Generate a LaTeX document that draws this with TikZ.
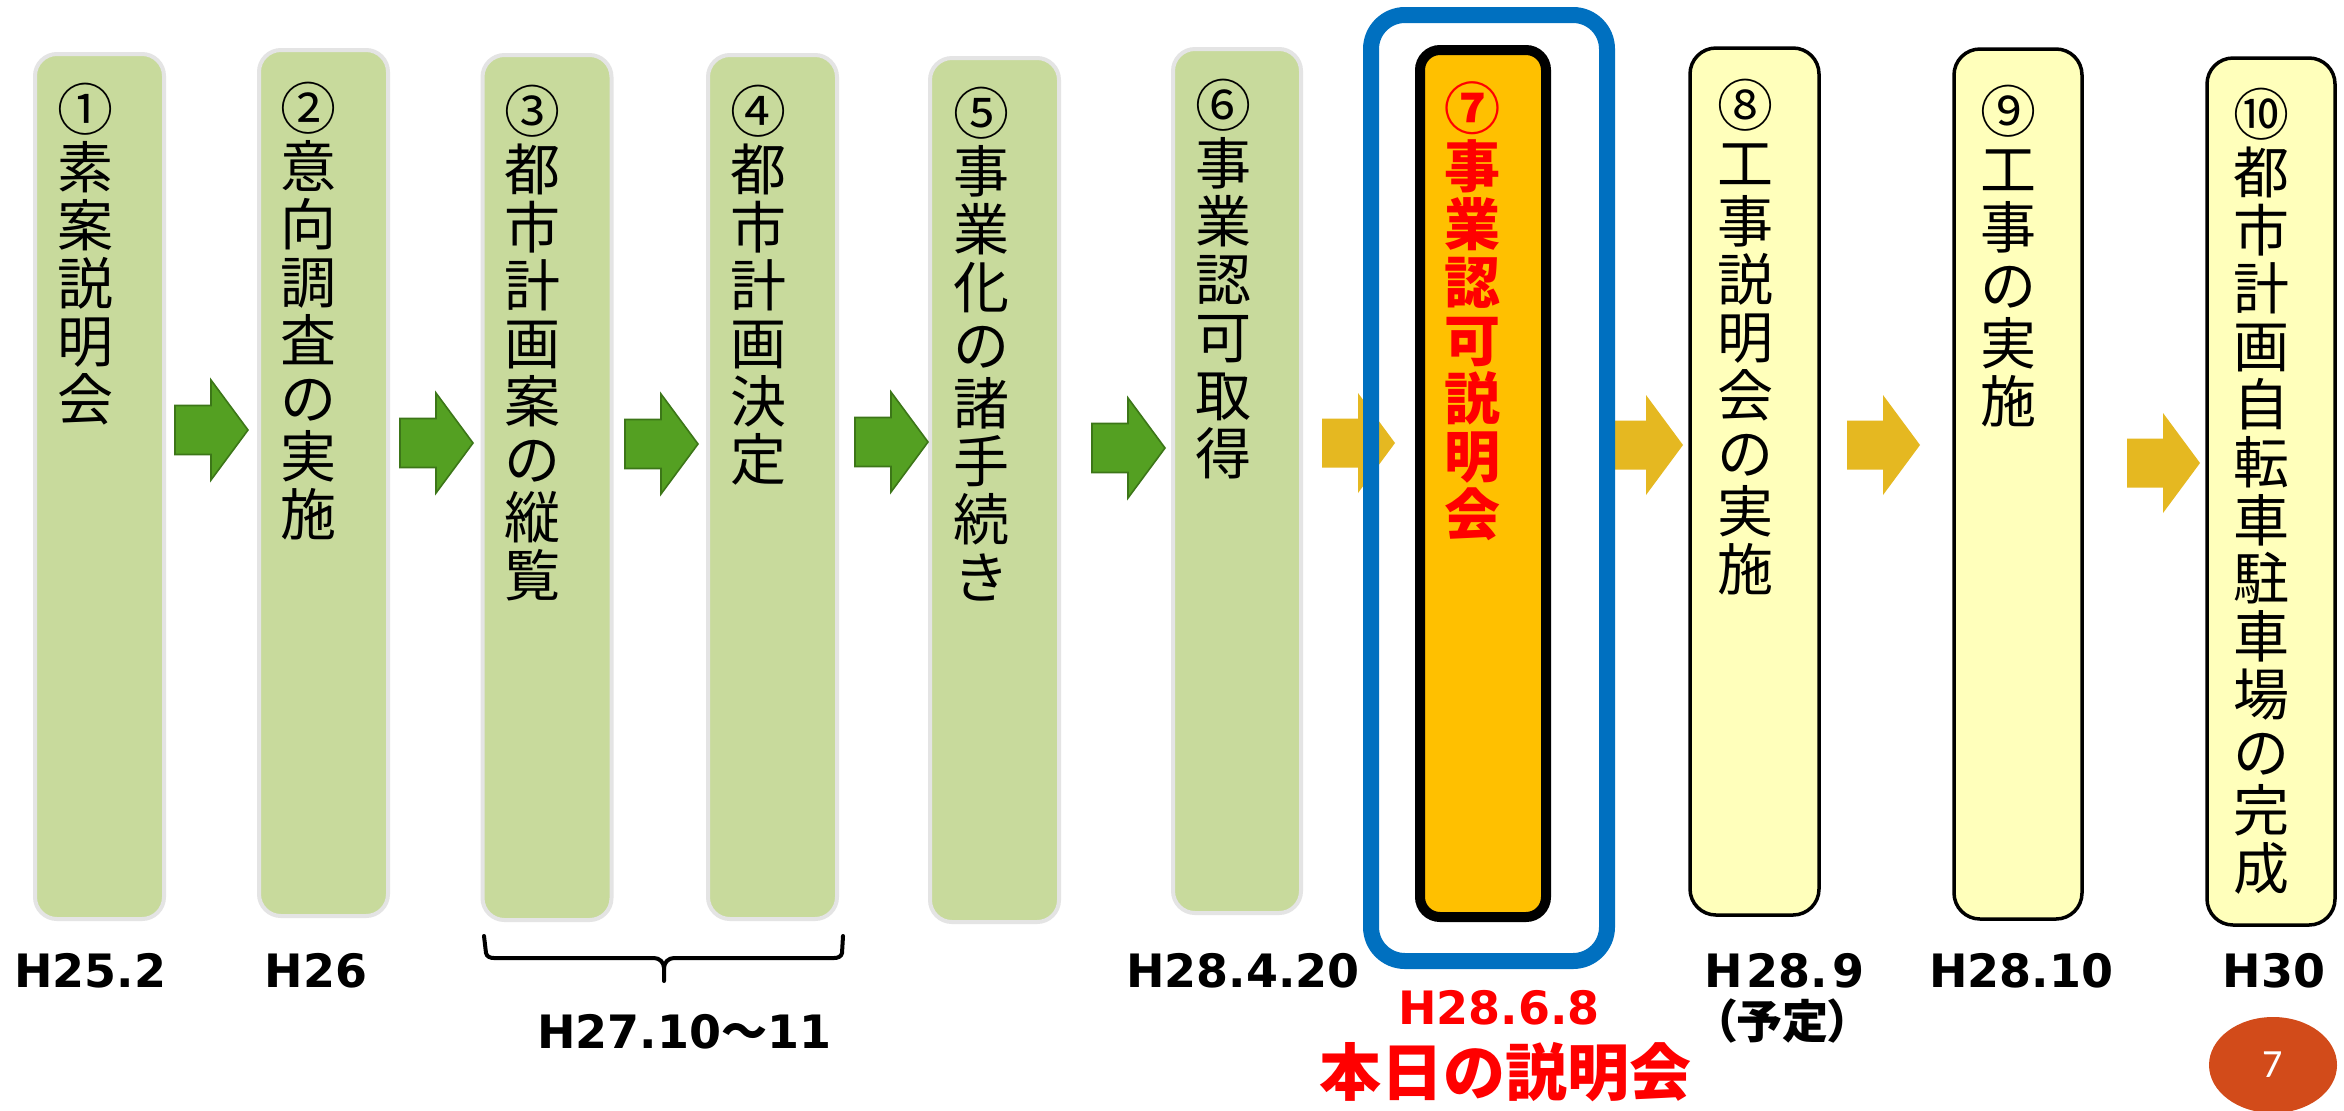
\documentclass[tikz,border=0pt]{standalone}
\usepackage{fontspec}
\setmainfont{DejaVu Sans}
\newfontfamily\cjk{Noto Sans CJK JP}
\newfontfamily\cjkp[RawFeature=+palt]{Noto Sans CJK JP}
\newfontfamily\dv{DejaVu Sans}
\newfontfamily\calib{Carlito}
\usetikzlibrary{shapes.geometric}
\definecolor{boxgreen}{RGB}{200,218,156}
\definecolor{boxgreenline}{RGB}{228,228,228}
\definecolor{arrgreen}{RGB}{84,160,34}
\definecolor{arrgreenline}{RGB}{60,118,24}
\definecolor{arryellow}{RGB}{229,184,33}
\definecolor{boxyellow}{RGB}{255,255,187}
\definecolor{boxorange}{RGB}{255,192,0}
\definecolor{hlblue}{RGB}{0,112,192}
\definecolor{pagered}{RGB}{210,75,26}
\begin{document}
\begin{tikzpicture}[x=0.5pt,y=-0.5pt,
  greenbox/.style={draw=boxgreenline, line width=2pt, fill=boxgreen, rounded corners=11pt, inner sep=0pt, minimum width=64.5pt},
  yellowbox/.style={draw=black, line width=1.75pt, fill=boxyellow, rounded corners=13pt, inner sep=0pt, minimum width=64pt},
  orangebox/.style={draw=black, line width=5pt, fill=boxorange, rounded corners=10pt, inner sep=0pt},
  hlframe/.style={draw=hlblue, line width=8pt, rounded corners=17pt, inner sep=0pt},
  greenarrow/.style={fill=arrgreen, draw=arrgreenline, line width=0.8pt},
  yellowarrow/.style={fill=arryellow},
  blockarrow/.pic={\path[pic actions] (0,-24.5) -- (36,-24.5) -- (36,-50) -- (73,0) -- (36,50) -- (36,24.5) -- (0,24.5) -- cycle;},
  vtext/.style={anchor=north, inner sep=0pt, align=center, font=\cjk\fontsize{28pt}{29pt}\selectfont},
  vtextbold/.style={vtext, text=red, font=\cjk\bfseries\fontsize{28pt}{29pt}\selectfont},
  datelabel/.style={anchor=base, inner sep=0pt, font=\dv\bfseries\fontsize{23pt}{27pt}\selectfont},
  bracketline/.style={draw=black, line width=2pt, line cap=round}
]
\useasboundingbox (0,0) rectangle (2344,1110);
\fill[white] (0,0) rectangle (2344,1110);

% boxes
\node[greenbox, minimum height=432.5pt] (b1) at (99.5,486.5) {};
\node[greenbox, minimum height=433pt] (b2) at (323.5,483) {};
\node[greenbox, minimum height=432.5pt] (b3) at (547,487.5) {};
\node[greenbox, minimum height=432pt] (b4) at (772.5,487) {};
\node[greenbox, minimum height=432pt] (b5) at (994.5,490) {};
\node[greenbox, minimum height=432pt, minimum width=64pt] (b6) at (1237,481) {};
\node[orangebox, minimum width=63pt, minimum height=433.5pt] (b7) at (1483,483.5) {};
\node[yellowbox, minimum height=433.5pt, minimum width=64.5pt] (b8) at (1754.5,481.5) {};
\node[yellowbox, minimum height=435pt] (b9) at (2018,484) {};
\node[yellowbox, minimum height=433.5pt] (b10) at (2271,491.5) {};

% block arrows
\pic[greenarrow] (a1) at (175,430) {blockarrow};
\pic[greenarrow] (a2) at (400,443) {blockarrow};
\pic[greenarrow] (a3) at (625,444) {blockarrow};
\pic[greenarrow] (a4) at (855,442) {blockarrow};
\pic[greenarrow] (a5) at (1092,448) {blockarrow};
\pic[yellowarrow] (a6) at (1322,443) {blockarrow};
\pic[yellowarrow] (a7) at (1610,445) {blockarrow};
\pic[yellowarrow] (a8) at (1847,445) {blockarrow};
\pic[yellowarrow] (a9) at (2127,463) {blockarrow};

% highlight frame
\node[hlframe, minimum width=118pt, minimum height=473pt] (frame) at (1489,488) {};

% vertical texts
\node[vtext] (t1) at (85,83) {①\\素\\案\\説\\明\\会};
\node[vtext] (t2) at (308,82) {②\\意\\向\\調\\査\\の\\実\\施};
\node[vtext] (t3) at (532,85) {③\\都\\市\\計\\画\\案\\の\\縦\\覧};
\node[vtext] (t4) at (758,85) {④\\都\\市\\計\\画\\決\\定};
\node[vtext] (t5) at (981,87) {⑤\\事\\業\\化\\の\\諸\\手\\続\\き};
\node[vtext] (t6) at (1223,79) {⑥\\事\\業\\認\\可\\取\\得};
\node[vtextbold] (t7) at (1472,81) {⑦\\事\\業\\認\\可\\説\\明\\会};
\node[vtext] (t8) at (1745,79) {⑧\\工\\事\\説\\明\\会\\の\\実\\施};
\node[vtext] (t9) at (2008,85) {⑨\\工\\事\\の\\実\\施};
\node[vtext] (t10) at (2261,88) {⑩\\都\\市\\計\\画\\自\\転\\車\\駐\\車\\場\\の\\完\\成};

% bracket under 3 and 4
\coordinate (brL) at (484,936);
\coordinate (brR) at (843,936);
\coordinate (brM) at (664,981);
\draw[bracketline] (brL) -- (486,953) to[out=-80,in=180] (494,958) -- (654,958) to[out=0,in=90] (664,968) -- (brM);
\draw[bracketline] (664,968) to[out=90,in=180] (674,958) -- (834,958) to[out=0,in=-100] (842,953) -- (brR);

% date labels
\node[datelabel] (d1) at (90,987) {H25.2};
\node[datelabel] (d2) at (316,987) {H26};
\node[datelabel] (d34) at (684,1048) {H27.10{\cjk\bfseries ～}11};
\node[datelabel] (d6) at (1243,987) {H28.4.20};
\node[datelabel, text=red] (d7) at (1499,1024) {H28.6.8};
\node[datelabel] (d8) at (1784,987) {H\kern2pt 28.\kern2pt 9};
\node[anchor=base, inner sep=0pt, font=\cjkp\bfseries\fontsize{23pt}{27pt}\selectfont] (d8b) at (1782,1038) {（予定）};
\node[datelabel] (d9) at (2021,987) {H28.10};
\node[datelabel] (d10) at (2274,987) {H30};
\node[anchor=base, inner sep=0pt, text=red, font=\cjk\bfseries\fontsize{31pt}{35pt}\selectfont] (today) at (1505,1095) {本日の説明会};

% page number
\node[ellipse, fill=pagered, minimum width=64pt, minimum height=48pt, inner sep=0pt, text=white, font=\calib\fontsize{20pt}{24pt}\selectfont] (pg) at (2273,1065) {7};
\end{tikzpicture}
\end{document}
